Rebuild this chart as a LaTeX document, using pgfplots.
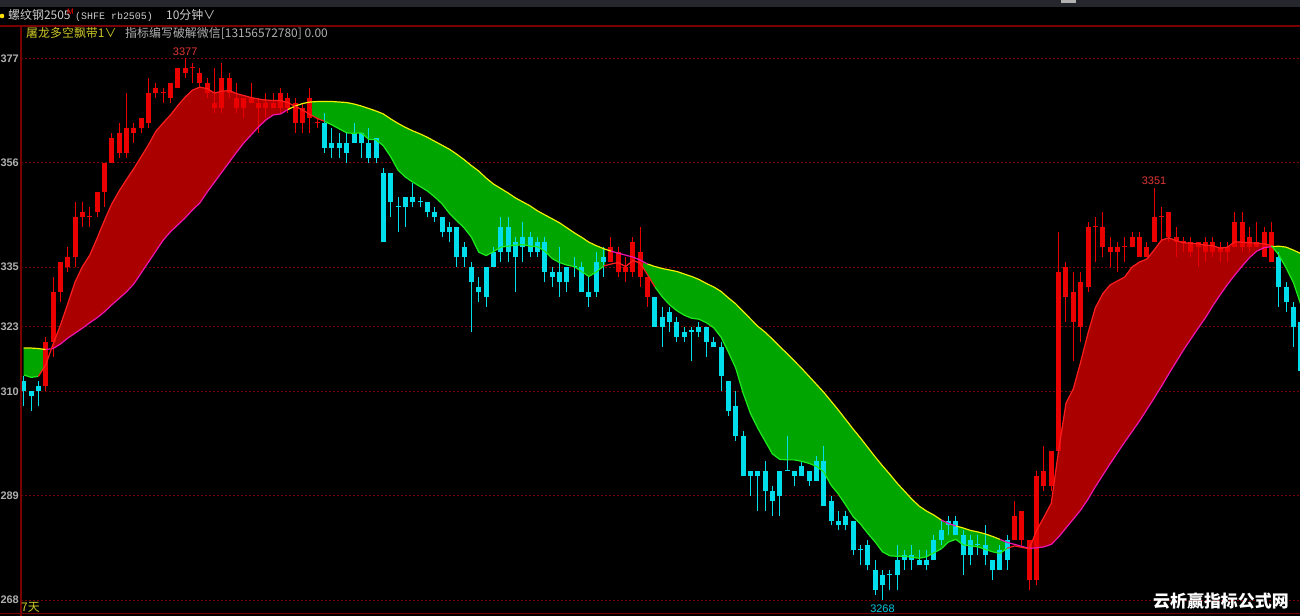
\documentclass[border=0pt]{standalone}
\usepackage{fontspec}
\setmainfont{Liberation Sans}
\newfontfamily\cjk{Noto Sans CJK SC}
\newfontfamily\mono{Liberation Mono}
\usepackage{pgfplots}
\usepackage{pgfplotstable}
\pgfplotsset{compat=1.18}

\definecolor{hdr}{RGB}{36,39,43}
\definecolor{framec}{RGB}{120,0,0}
\definecolor{gridc}{RGB}{125,0,0}
\definecolor{upc}{RGB}{235,0,0}
\definecolor{dnc}{RGB}{0,222,235}
\definecolor{redfill}{RGB}{170,0,0}
\definecolor{greenfill}{RGB}{0,165,0}
\definecolor{fred}{RGB}{255,30,30}
\definecolor{fgreen}{RGB}{30,235,30}
\definecolor{smag}{RGB}{240,20,180}
\definecolor{syel}{RGB}{240,240,0}
\definecolor{lbl}{RGB}{175,175,175}
\definecolor{ttl}{RGB}{205,205,205}
\definecolor{ind}{RGB}{205,200,40}
\definecolor{hilab}{RGB}{225,55,55}
\definecolor{lolab}{RGB}{0,200,220}

% up (red) candles: index open high low close
\pgfplotstableread{
i o h l c
3 3311 3321 3310 3320
4 3320 3333 3317 3330
5 3330 3336 3328 3336
6 3335 3339 3334 3337
7 3337 3348 3335 3345
8 3345 3348 3343 3346
9 3345 3347 3343 3345
10 3346 3350 3345 3350
11 3350 3356 3347 3356
12 3356 3362 3356 3361
13 3358 3364 3357 3362
14 3358 3370 3357 3363
15 3362 3364 3360 3363
16 3363 3365 3362 3365
17 3364 3373 3363 3370
18 3370 3372 3369 3371
19 3370 3371 3368 3370
20 3369 3372 3368 3372
21 3371 3375 3371 3375
22 3374 3377 3373 3375
23 3375 3376 3372 3375
24 3372 3375 3371 3374
25 3370 3373 3369 3372
26 3367 3375 3366 3368
27 3367 3376 3366 3373
28 3370 3374 3369 3373
29 3367 3372 3366 3369
30 3367 3369 3365 3369
31 3368 3372 3368 3369
32 3367 3369 3362 3368
33 3367 3370 3365 3368
34 3367 3370 3367 3368
35 3367 3371 3366 3370
36 3367 3370 3366 3369
37 3364 3369 3362 3368
38 3364 3368 3362 3367
39 3365 3371 3362 3369
40 3364 3365 3363 3364
80 3336 3341 3336 3339
81 3334 3339 3333 3338
82 3334 3337 3332 3335
83 3334 3341 3333 3340
84 3333 3343 3331 3338
85 3329 3333 3327 3333
135 3280 3288 3280 3285
136 3280 3286 3279 3286
137 3272 3280 3270 3280
138 3272 3294 3271 3293
139 3291 3299 3290 3294
140 3291 3298 3290 3298
141 3298 3342 3298 3334
142 3329 3336 3324 3335
143 3324 3334 3316 3330
144 3323 3334 3320 3332
145 3331 3344 3330 3343
146 3343 3345 3336 3343
147 3339 3346 3337 3343
148 3338 3341 3335 3339
149 3338 3340 3334 3339
150 3339 3341 3336 3339
151 3339 3342 3339 3341
152 3337 3342 3337 3341
153 3337 3340 3337 3339
154 3340 3351 3340 3345
155 3345 3347 3340 3345
156 3341 3346 3340 3346
157 3340 3343 3337 3341
158 3340 3341 3338 3340
159 3338 3341 3337 3340
160 3339 3340 3335 3340
161 3338 3341 3336 3340
162 3338 3341 3337 3340
163 3338 3340 3336 3339
164 3338 3340 3336 3339
165 3339 3346 3339 3344
166 3339 3346 3338 3344
167 3339 3343 3338 3341
168 3339 3344 3339 3340
169 3337 3343 3337 3342
170 3336 3344 3336 3342
}\upK

% down (cyan) candles
\pgfplotstableread{
i o h l c
0 3312 3313 3307 3310
1 3310 3310 3306 3309
2 3311 3312 3307 3310
41 3364 3366 3358 3359
42 3360 3363 3357 3359
43 3360 3362 3357 3359
44 3360 3362 3356 3358
45 3362 3364 3360 3360
46 3362 3362 3357 3360
47 3360 3363 3356 3357
48 3361 3361 3356 3357
49 3354 3355 3340 3340
50 3354 3354 3345 3348
51 3347 3349 3342 3347
52 3349 3349 3343 3347
53 3349 3352 3347 3348
54 3348 3349 3347 3348
55 3348 3348 3345 3346
56 3346 3347 3344 3345
57 3345 3345 3341 3342
58 3343 3344 3340 3342
59 3343 3343 3335 3337
60 3339 3340 3335 3337
61 3335 3336 3322 3332
62 3331 3333 3328 3330
63 3335 3335 3327 3329
64 3338 3339 3335 3335
65 3343 3345 3336 3338
66 3343 3345 3336 3338
67 3340 3341 3330 3337
68 3341 3344 3336 3339
69 3341 3342 3337 3338
70 3340 3341 3337 3338
71 3340 3341 3332 3334
72 3334 3335 3331 3333
73 3334 3339 3329 3332
74 3335 3335 3330 3332
75 3335 3337 3333 3335
76 3335 3336 3330 3330
77 3330 3333 3327 3329
78 3336 3338 3329 3330
79 3337 3339 3333 3336
86 3329 3329 3323 3323
87 3325 3327 3319 3323
88 3326 3327 3322 3324
89 3324 3325 3320 3321
90 3322 3323 3320 3321
91 3322 3323 3316 3322
92 3323 3324 3321 3322
93 3323 3323 3317 3320
94 3320 3321 3319 3319
95 3319 3320 3310 3313
96 3312 3312 3305 3306
97 3307 3310 3300 3301
98 3301 3302 3293 3293
99 3294 3294 3289 3293
100 3294 3294 3286 3293
101 3294 3296 3286 3290
102 3290 3291 3285 3288
103 3294 3294 3285 3289
104 3294 3301 3294 3294
105 3294 3294 3291 3293
106 3295 3296 3293 3293
107 3294 3294 3291 3292
108 3296 3297 3292 3292
109 3296 3299 3287 3287
110 3288 3289 3283 3284
111 3284 3286 3282 3283
112 3285 3286 3282 3283
113 3284 3284 3277 3278
114 3278 3279 3275 3278
115 3279 3280 3274 3275
116 3274 3276 3269 3270
117 3273 3274 3268 3271
118 3273 3274 3270 3273
119 3276 3279 3270 3273
120 3277 3278 3274 3276
121 3277 3279 3274 3276
122 3276 3278 3275 3275
123 3276 3278 3274 3275
124 3280 3281 3276 3276
125 3282 3284 3279 3280
126 3284 3285 3281 3283
127 3284 3285 3281 3281
128 3281 3282 3273 3277
129 3280 3281 3275 3277
130 3279 3281 3277 3279
131 3279 3283 3275 3277
132 3276 3276 3272 3274
133 3278 3279 3274 3274
134 3280 3281 3274 3276
171 3337 3338 3327 3331
172 3331 3332 3326 3328
173 3327 3328 3319 3323
174 3324 3325 3312 3314
}\dnK

% band: fast line F and slow line S
\pgfplotstableread{
i F S
0 3313.3 3318.7
1 3312.8 3318.7
2 3313.0 3318.6
3 3315.3 3318.4
4 3319.5 3318.6
5 3323.3 3319.5
6 3327.6 3320.7
7 3332.0 3321.7
8 3335.1 3322.7
9 3337.4 3323.8
10 3340.8 3324.8
11 3344.4 3326.0
12 3347.7 3327.4
13 3350.3 3328.7
14 3352.6 3330.0
15 3354.8 3331.6
16 3357.2 3333.8
17 3359.6 3336.0
18 3362.3 3338.2
19 3364.0 3340.4
20 3365.6 3342.1
21 3367.5 3343.5
22 3369.2 3344.9
23 3370.6 3346.5
24 3371.2 3347.9
25 3370.9 3350.1
26 3370.0 3352.1
27 3370.4 3354.1
28 3370.5 3356.1
29 3369.9 3358.1
30 3369.5 3360.0
31 3369.1 3361.6
32 3368.8 3363.2
33 3368.6 3364.6
34 3368.5 3365.6
35 3368.5 3365.8
36 3368.1 3366.7
37 3367.3 3367.4
38 3366.6 3367.9
39 3365.7 3368.2
40 3364.9 3368.3
41 3364.3 3368.3
42 3363.6 3368.3
43 3362.8 3368.2
44 3362.0 3368.1
45 3361.9 3367.8
46 3362.0 3367.4
47 3360.7 3366.9
48 3360.6 3366.4
49 3359.4 3365.8
50 3357.2 3364.8
51 3354.5 3363.9
52 3353.1 3363.1
53 3352.1 3362.4
54 3351.2 3361.8
55 3350.3 3361.1
56 3349.1 3360.3
57 3347.7 3359.5
58 3345.8 3358.7
59 3344.3 3357.7
60 3342.9 3356.6
61 3341.0 3355.4
62 3338.0 3354.3
63 3337.3 3352.9
64 3338.1 3351.7
65 3339.0 3350.8
66 3339.2 3349.9
67 3339.4 3348.9
68 3339.5 3348.1
69 3339.2 3347.3
70 3339.1 3346.3
71 3338.2 3345.5
72 3336.7 3344.7
73 3335.9 3343.9
74 3335.4 3342.9
75 3335.1 3341.9
76 3334.1 3341.0
77 3333.1 3340.0
78 3334.0 3339.3
79 3335.2 3338.7
80 3335.6 3338.2
81 3335.9 3337.8
82 3335.1 3337.4
83 3336.3 3337.0
84 3335.8 3336.4
85 3333.4 3335.6
86 3331.0 3335.1
87 3329.0 3334.7
88 3327.4 3334.4
89 3326.2 3334.1
90 3325.3 3333.6
91 3324.7 3333.1
92 3324.5 3332.5
93 3323.8 3331.7
94 3322.8 3331.0
95 3320.9 3330.1
96 3317.9 3328.8
97 3314.7 3327.6
98 3309.7 3326.1
99 3305.6 3324.6
100 3302.6 3323.1
101 3300.0 3321.9
102 3297.4 3320.5
103 3296.3 3319.0
104 3296.2 3317.6
105 3296.2 3316.1
106 3295.9 3314.6
107 3295.5 3313.0
108 3294.9 3311.4
109 3293.8 3309.8
110 3291.1 3308.0
111 3289.3 3306.2
112 3287.1 3304.3
113 3284.8 3302.4
114 3283.3 3300.6
115 3281.4 3298.7
116 3279.7 3296.8
117 3277.7 3295.0
118 3276.9 3293.3
119 3276.8 3291.5
120 3276.8 3289.9
121 3276.6 3288.3
122 3276.4 3286.9
123 3276.7 3285.9
124 3277.5 3285.1
125 3278.3 3284.1
126 3279.7 3283.4
127 3280.2 3282.9
128 3279.1 3282.5
129 3278.9 3282.0
130 3278.7 3281.7
131 3278.2 3281.3
132 3277.7 3280.8
133 3277.4 3280.2
134 3278.4 3279.6
135 3278.9 3279.2
136 3278.6 3278.8
137 3278.3 3278.4
138 3282.0 3278.5
139 3284.7 3278.7
140 3287.5 3279.2
141 3298.2 3280.7
142 3307.6 3282.5
143 3310.5 3284.3
144 3315.9 3286.1
145 3321.7 3288.3
146 3326.8 3290.8
147 3329.6 3293.1
148 3331.4 3295.4
149 3332.2 3297.6
150 3333.0 3299.8
151 3335.0 3301.9
152 3336.0 3304.0
153 3336.6 3306.3
154 3338.4 3308.6
155 3340.4 3311.0
156 3340.9 3313.5
157 3340.3 3315.9
158 3339.9 3318.3
159 3339.8 3320.5
160 3339.7 3322.7
161 3339.4 3324.8
162 3339.3 3327.2
163 3338.8 3329.4
164 3339.0 3331.5
165 3340.1 3333.4
166 3340.0 3335.2
167 3339.9 3336.9
168 3339.8 3338.2
169 3339.7 3338.9
170 3339.3 3339.1
171 3337.4 3339.2
172 3334.8 3339.0
173 3331.8 3338.4
174 3327.4 3337.7
}\band

% band fill outlines (F forward, S back)
\pgfplotstableread{
i v
0 3313.3
1 3312.8
2 3313.0
2.7 3314.6
2.7 3318.5
2 3318.6
1 3318.7
0 3318.7
}\polyGa
\pgfplotstableread{
i v
3.775 3318.55
4 3319.5
5 3323.3
6 3327.6
7 3332.0
8 3335.1
9 3337.4
10 3340.8
11 3344.4
12 3347.7
13 3350.3
14 3352.6
15 3354.8
16 3357.2
17 3359.6
18 3362.3
19 3364.0
20 3365.6
21 3367.5
22 3369.2
23 3370.6
24 3371.2
25 3370.9
26 3370.0
27 3370.4
28 3370.5
29 3369.9
30 3369.5
31 3369.1
32 3368.8
33 3368.6
34 3368.5
35 3368.5
36 3368.1
36.3 3367.86
36.3 3366.91
36 3366.7
35 3365.8
34 3365.6
33 3364.6
32 3363.2
31 3361.6
30 3360.0
29 3358.1
28 3356.1
27 3354.1
26 3352.1
25 3350.1
24 3347.9
23 3346.5
22 3344.9
21 3343.5
20 3342.1
19 3340.4
18 3338.2
17 3336.0
16 3333.8
15 3331.6
14 3330.0
13 3328.7
12 3327.4
11 3326.0
10 3324.8
9 3323.8
8 3322.7
7 3321.7
6 3320.7
5 3319.5
4 3318.6
}\polyRa
\pgfplotstableread{
i v
39.3 3365.46
40 3364.9
41 3364.3
42 3363.6
43 3362.8
44 3362.0
45 3361.9
46 3362.0
47 3360.7
48 3360.6
49 3359.4
50 3357.2
51 3354.5
52 3353.1
53 3352.1
54 3351.2
55 3350.3
56 3349.1
57 3347.7
58 3345.8
59 3344.3
60 3342.9
61 3341.0
62 3338.0
63 3337.3
64 3338.1
65 3339.0
66 3339.2
67 3339.4
68 3339.5
69 3339.2
70 3339.1
71 3338.2
72 3336.7
73 3335.9
74 3335.4
75 3335.1
76 3334.1
77 3333.1
78 3334.0
79 3335.2
79.2 3335.28
79.2 3338.6
79 3338.7
78 3339.3
77 3340.0
76 3341.0
75 3341.9
74 3342.9
73 3343.9
72 3344.7
71 3345.5
70 3346.3
69 3347.3
68 3348.1
67 3348.9
66 3349.9
65 3350.8
64 3351.7
63 3352.9
62 3354.3
61 3355.4
60 3356.6
59 3357.7
58 3358.7
57 3359.5
56 3360.3
55 3361.1
54 3361.8
53 3362.4
52 3363.1
51 3363.9
50 3364.8
49 3365.8
48 3366.4
47 3366.9
46 3367.4
45 3367.8
44 3368.1
43 3368.2
42 3368.3
41 3368.3
40 3368.3
39.3 3368.23
}\polyGb
\pgfplotstableread{
i v
84.1 3335.56
85 3333.4
86 3331.0
87 3329.0
88 3327.4
89 3326.2
90 3325.3
91 3324.7
92 3324.5
93 3323.8
94 3322.8
95 3320.9
96 3317.9
97 3314.7
98 3309.7
99 3305.6
100 3302.6
101 3300.0
102 3297.4
103 3296.3
104 3296.2
105 3296.2
106 3295.9
107 3295.5
108 3294.9
109 3293.8
110 3291.1
111 3289.3
112 3287.1
113 3284.8
114 3283.3
115 3281.4
116 3279.7
117 3277.7
118 3276.9
119 3276.8
120 3276.8
121 3276.6
122 3276.4
123 3276.7
124 3277.5
125 3278.3
126 3279.7
127 3280.2
128 3279.1
129 3278.9
130 3278.7
131 3278.2
132 3277.7
133 3277.4
134 3278.4
134 3279.6
133 3280.2
132 3280.8
131 3281.3
130 3281.7
129 3282.0
128 3282.5
127 3282.9
126 3283.4
125 3284.1
124 3285.1
123 3285.9
122 3286.9
121 3288.3
120 3289.9
119 3291.5
118 3293.3
117 3295.0
116 3296.8
115 3298.7
114 3300.6
113 3302.4
112 3304.3
111 3306.2
110 3308.0
109 3309.8
108 3311.4
107 3313.0
106 3314.6
105 3316.1
104 3317.6
103 3319.0
102 3320.5
101 3321.9
100 3323.1
99 3324.6
98 3326.1
97 3327.6
96 3328.8
95 3330.1
94 3331.0
93 3331.7
92 3332.5
91 3333.1
90 3333.6
89 3334.1
88 3334.4
87 3334.7
86 3335.1
85 3335.6
84.1 3336.32
}\polyGc
\pgfplotstableread{
i v
137.03 3278.4
138 3282.0
139 3284.7
140 3287.5
141 3298.2
142 3307.6
143 3310.5
144 3315.9
145 3321.7
146 3326.8
147 3329.6
148 3331.4
149 3332.2
150 3333.0
151 3335.0
152 3336.0
153 3336.6
154 3338.4
155 3340.4
156 3340.9
157 3340.3
158 3339.9
159 3339.8
160 3339.7
161 3339.4
162 3339.3
163 3338.8
164 3339.0
165 3340.1
166 3340.0
167 3339.9
168 3339.8
169 3339.7
170 3339.3
170.1 3339.11
170 3339.1
169 3338.9
168 3338.2
167 3336.9
166 3335.2
165 3333.4
164 3331.5
163 3329.4
162 3327.2
161 3324.8
160 3322.7
159 3320.5
158 3318.3
157 3315.9
156 3313.5
155 3311.0
154 3308.6
153 3306.3
152 3304.0
151 3301.9
150 3299.8
149 3297.6
148 3295.4
147 3293.1
146 3290.8
145 3288.3
144 3286.1
143 3284.3
142 3282.5
141 3280.7
140 3279.2
139 3278.7
138 3278.5
}\polyRb
\pgfplotstableread{
i v
170.1 3339.11
171 3337.4
172 3334.8
173 3331.8
174 3327.4
174 3337.7
173 3338.4
172 3339.0
171 3339.2
}\polyGd

\begin{document}
\begin{tikzpicture}
\useasboundingbox (0,0) rectangle (1300bp,616bp);
\fill[black] (0,0) rectangle (1300bp,616bp);
\fill[hdr] (0,609bp) rectangle (1300bp,616bp);
\fill[black!30] (1061bp,613bp) rectangle (1076bp,616bp);
\begin{axis}[
  at={(21bp,0bp)}, anchor=south west,
  scale only axis, width=1279bp, height=591bp,
  xmin=-0.368, xmax=173.88, ymin=3264.79, ymax=3383.70,
  axis line style={draw=none},
  xtick=\empty,
  ytick={3268,3289,3310,3323,3335,3356,3377},
  yticklabels={268,289,310,323,335,356,377},
  major tick length=0pt,
  ymajorgrids,
  grid style={gridc, dash pattern=on 2bp off 2bp, line width=0.8bp},
  yticklabel style={font=\fontsize{11}{13}\selectfont\bfseries, text=lbl, inner sep=0pt, xshift=-2bp},
]
% band fills
\addplot[fill=greenfill, draw=none] table[x=i,y=v]{\polyGa};
\addplot[fill=redfill, draw=none] table[x=i,y=v]{\polyRa};
\addplot[fill=greenfill, draw=none] table[x=i,y=v]{\polyGb};
\addplot[fill=greenfill, draw=none] table[x=i,y=v]{\polyGc};
\addplot[fill=redfill, draw=none] table[x=i,y=v]{\polyRb};
\addplot[fill=greenfill, draw=none] table[x=i,y=v]{\polyGd};

% candles: wicks (low to high) and bodies (open to close), one stroke each
\addplot[upc, draw=none, mark=none, mark size=0pt, error bars/.cd, y dir=plus, y explicit, error mark=none,
  error bar style={draw=upc, line width=1bp}]
  table[x=i, y=l, y error expr={\thisrow{h}-\thisrow{l}}]{\upK};
\addplot[upc, draw=none, mark=none, mark size=0pt, error bars/.cd, y dir=plus, y explicit, error mark=none,
  error bar style={draw=upc, line width=5bp}]
  table[x=i, y expr={min(\thisrow{o},\thisrow{c})}, y error expr={max(abs(\thisrow{c}-\thisrow{o}),0.26)}]{\upK};
\addplot[dnc, draw=none, mark=none, mark size=0pt, error bars/.cd, y dir=plus, y explicit, error mark=none,
  error bar style={draw=dnc, line width=1bp}]
  table[x=i, y=l, y error expr={\thisrow{h}-\thisrow{l}}]{\dnK};
\addplot[dnc, draw=none, mark=none, mark size=0pt, error bars/.cd, y dir=plus, y explicit, error mark=none,
  error bar style={draw=dnc, line width=5bp}]
  table[x=i, y expr={min(\thisrow{o},\thisrow{c})}, y error expr={max(abs(\thisrow{c}-\thisrow{o}),0.26)}]{\dnK};

% band lines
\addplot[syel, line width=1.2bp, restrict x to domain=0:3] table[x=i,y=S]{\band};
\addplot[smag, line width=1.2bp, restrict x to domain=3:36] table[x=i,y=S]{\band};
\addplot[syel, line width=1.2bp, restrict x to domain=36:80] table[x=i,y=S]{\band};
\addplot[smag, line width=1.2bp, restrict x to domain=80:85] table[x=i,y=S]{\band};
\addplot[syel, line width=1.2bp, restrict x to domain=85:125] table[x=i,y=S]{\band};
\addplot[smag, line width=1.2bp, restrict x to domain=125:127] table[x=i,y=S]{\band};
\addplot[syel, line width=1.2bp, restrict x to domain=127:133] table[x=i,y=S]{\band};
\addplot[smag, line width=1.2bp, restrict x to domain=133:170] table[x=i,y=S]{\band};
\addplot[syel, line width=1.2bp, restrict x to domain=170:175] table[x=i,y=S]{\band};
\addplot[fgreen, line width=1.2bp, restrict x to domain=0:2] table[x=i,y=F]{\band};
\addplot[fred, line width=1.2bp, restrict x to domain=2:41] table[x=i,y=F]{\band};
\addplot[fgreen, line width=1.2bp, restrict x to domain=41:79] table[x=i,y=F]{\band};
\addplot[fred, line width=1.2bp, restrict x to domain=79:86] table[x=i,y=F]{\band};
\addplot[fgreen, line width=1.2bp, restrict x to domain=86:134] table[x=i,y=F]{\band};
\addplot[fred, line width=1.2bp, restrict x to domain=134:170] table[x=i,y=F]{\band};
\addplot[fgreen, line width=1.2bp, restrict x to domain=170:175] table[x=i,y=F]{\band};

\node[anchor=base, inner sep=0pt, text=hilab, font=\fontsize{11}{13}\selectfont, yshift=3bp] at (axis cs:22,3377) {3377};
\node[anchor=base, inner sep=0pt, text=hilab, font=\fontsize{11}{13}\selectfont, yshift=3.5bp] at (axis cs:154,3351) {3351};
\node[anchor=base, inner sep=0pt, text=lolab, font=\fontsize{11}{13}\selectfont, yshift=-12.5bp] at (axis cs:117,3268) {3268};
\end{axis}
% frame
\draw[framec, line width=1.2bp] (21bp,0) -- (21bp,590bp);
\draw[framec, line width=1.2bp] (0,590bp) -- (1300bp,590bp);
\draw[framec, line width=1bp] (0,2.5bp) -- (1300bp,2.5bp);
% header texts
\fill[yellow!85!orange] (2bp,600bp) circle (2.3bp);
\node[anchor=base west, inner sep=0pt, text=ttl, font=\cjk\fontsize{12}{14}\selectfont] at (8bp,596bp) {螺纹钢2505};
\node[anchor=base west, inner sep=0pt, text=red, font=\fontsize{8}{9}\selectfont] at (67bp,601bp) {M};
\node[anchor=base west, inner sep=0pt, text=ttl, font=\mono\fontsize{10}{12}\selectfont] at (75bp,596bp) {(SHFE rb2505)};
\node[anchor=base west, inner sep=0pt, text=ttl, font=\cjk\fontsize{12}{14}\selectfont] at (166bp,596bp) {10分钟∨};
\node[anchor=base west, inner sep=0pt, text=ind, font=\cjk\fontsize{12}{14}\selectfont] at (26bp,578.5bp) {屠龙多空飘带1∨};
\node[anchor=base west, inner sep=0pt, text=lbl, font=\cjk\fontsize{12}{14}\selectfont] at (125bp,578.5bp) {指标编写破解微信[13156572780] 0.00};
\node[anchor=base west, inner sep=0pt, text=ind, font=\cjk\fontsize{12}{14}\selectfont] at (21bp,4.5bp) {7天};
\node[anchor=base west, inner sep=0pt, text=white, font=\cjk\bfseries\fontsize{17}{19}\selectfont] at (1153bp,9bp) {云析赢指标公式网};
\end{tikzpicture}
\end{document}
